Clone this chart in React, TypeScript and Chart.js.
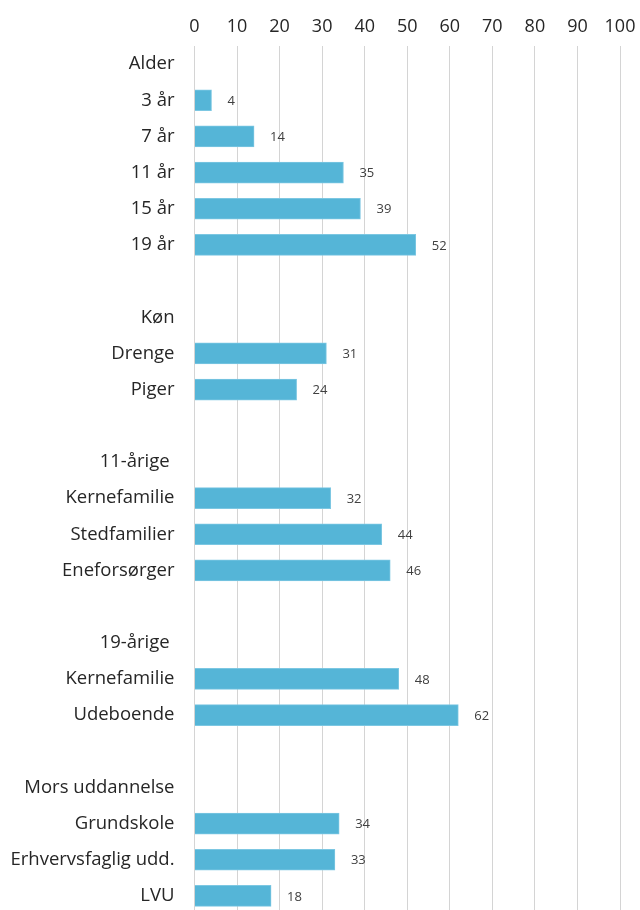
import React, { useEffect, useRef } from "react";
import { Chart, registerables } from "chart.js";

Chart.register(...registerables);

const categories: string[] = [
  "Alder", "3 år", "7 år", "11 år", "15 år", "19 år",
  "",
  "Køn", "Drenge", "Piger",
  "",
  "11-årige ", "Kernefamilie", "Stedfamilier", "Eneforsørger",
  "",
  "19-årige ", "Kernefamilie", "Udeboende",
  "",
  "Mors uddannelse", "Grundskole", "Erhvervsfaglig udd.", "LVU",
];

const values: (number | null)[] = [
  null, 4, 14, 35, 39, 52,
  null,
  null, 31, 24,
  null,
  null, 32, 44, 46,
  null,
  null, 48, 62,
  null,
  null, 34, 33, 18,
];

const xMin = 0;
const xMax = 100;
const xStep = 10;

const FONT = "'Open Sans', 'Noto Sans', sans-serif";

const valueLabels = {
  id: "valueLabels",
  afterDatasetsDraw(chart: any) {
    const ctx = chart.ctx;
    const meta = chart.getDatasetMeta(0);
    ctx.save();
    ctx.font = `13px ${FONT}`;
    ctx.fillStyle = "#404040";
    ctx.textAlign = "left";
    ctx.textBaseline = "middle";
    meta.data.forEach((bar: any, i: number) => {
      const v = values[i];
      if (v === null || v === undefined) return;
      ctx.fillText(String(v), bar.x + 16, bar.y + 1);
    });
    ctx.restore();
  },
};

export default function App() {
  const ref = useRef<HTMLCanvasElement | null>(null);
  useEffect(() => {
    if (!ref.current) return;
    const chart = new Chart(ref.current, {
      type: "bar",
      data: {
        labels: categories,
        datasets: [
          {
            data: values,
            backgroundColor: "#55B5D7",
            borderColor: "#7CC7E2",
            borderWidth: 1,
            barThickness: 21,
          },
        ],
      },
      options: {
        indexAxis: "y",
        animation: false,
        responsive: false,
        layout: { padding: { top: 0, right: 20, bottom: 2, left: 0 } },
        plugins: {
          legend: { display: false },
          tooltip: { enabled: false },
        },
        scales: {
          x: {
            position: "top",
            min: xMin,
            max: xMax,
            ticks: {
              stepSize: xStep,
              color: "#262626",
              font: { family: FONT, size: 18 },
              padding: 8,
            },
            grid: { color: "#D4D4D4", lineWidth: 1, drawTicks: false },
            border: { display: false },
            afterFit(scale: any) {
              scale.height = 46;
              scale.paddingLeft = 0;
              scale.paddingRight = 0;
            },
          },
          y: {
            ticks: {
              autoSkip: false,
              color: "#262626",
              font: { family: FONT, size: 18.5 },
              padding: 20,
            },
            grid: { display: false, drawTicks: false },
            border: { display: true, color: "#D4D4D4" },
            afterFit(scale: any) {
              scale.width = 194.5;
              scale.paddingTop = 0;
              scale.paddingBottom = 0;
            },
          },
        },
      },
      plugins: [valueLabels],
    });
    return () => chart.destroy();
  }, []);
  return (
    <div style={{ position: "absolute", left: 0, top: 0, width: 640, height: 910, overflow: "hidden" }}>
      <canvas ref={ref} width={640} height={916} />
    </div>
  );
}
